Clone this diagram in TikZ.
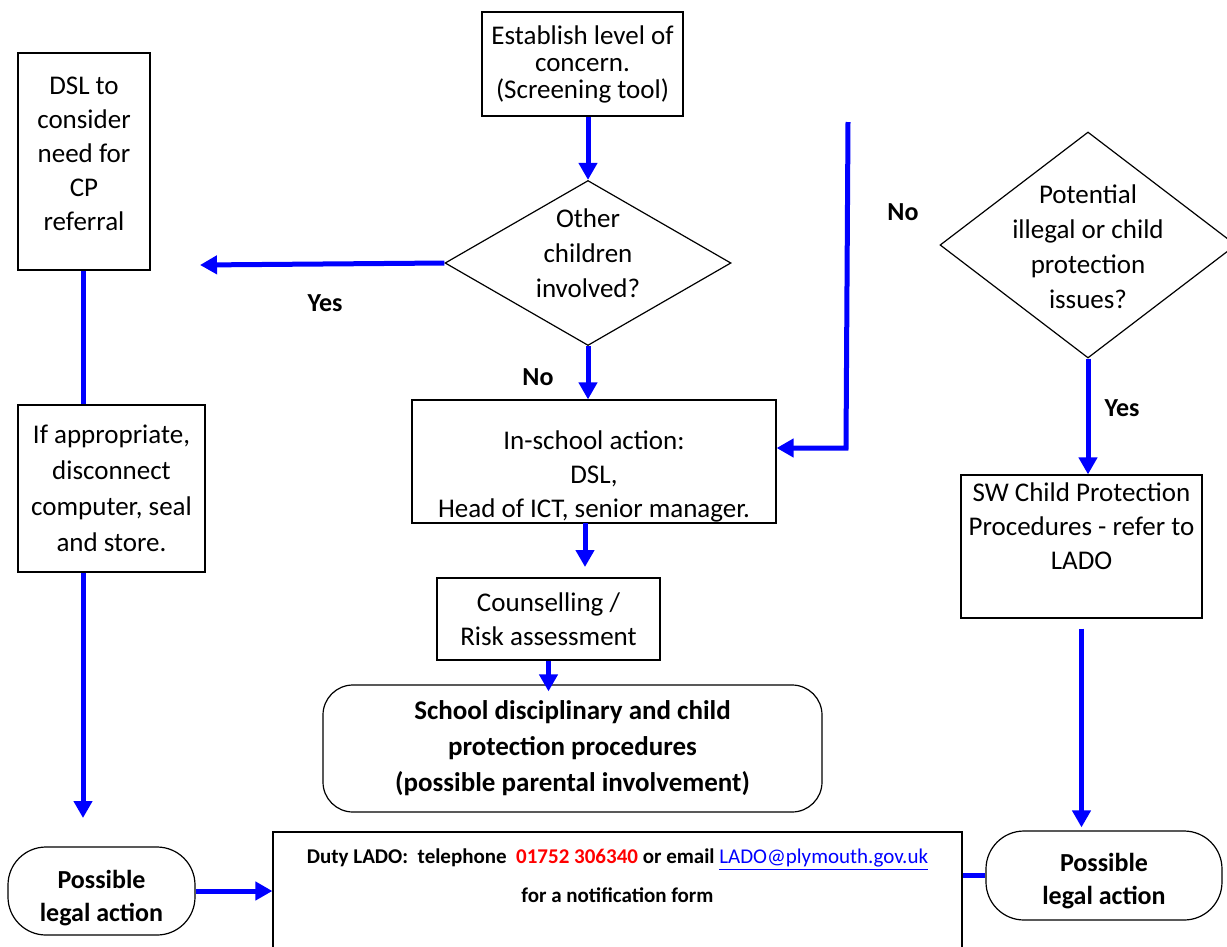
\documentclass[tikz,border=0pt]{standalone}
\usepackage{fontspec}
\setmainfont{Carlito}
\usepackage{tikz}
\usetikzlibrary{shapes.geometric,arrows.meta}

\begin{document}
\begin{tikzpicture}[x=1pt, y=-1pt, line width=1.2pt, % pixel grid, origin top left
  box/.style={draw, rectangle, align=center, inner sep=0pt, font=\fontsize{27}{34}\selectfont},
  decision/.style={draw, diamond, inner sep=0pt},
  terminal/.style={draw, rectangle, rounded corners=38pt, align=center, inner sep=0pt, font=\bfseries\fontsize{26}{33}\selectfont},
  flow/.style={draw=blue, line width=5pt, -{Triangle[length=17pt,width=18pt]}}, % blue arrow
  link/.style={draw=blue, line width=5pt}, % blue line, no tip
  answer/.style={font=\bfseries\fontsize{26}{30}\selectfont}]
  \useasboundingbox (0,0) rectangle (1227,946); % page size

  % boxes
  \node[box, minimum width=201pt, minimum height=104pt, font=\fontsize{27}{27}\selectfont] (concern) at (582.5,64) {Establish level of\\concern.\\(Screening tool)};
  \node[box, minimum width=132pt, minimum height=217pt, text depth=16pt] (dslcp) at (84,161.5) {DSL to\\consider\\need for\\CP\\referral};
  \node[decision, minimum width=286pt, minimum height=165pt,
    label={[align=center, yshift=10pt, font=\fontsize{27}{35}\selectfont]center:Other\\children\\involved?}] (children) at (588,263) {};
  \node[box, minimum width=187pt, minimum height=167pt, font=\fontsize{27}{36}\selectfont] (appropriate) at (111.5,488.5) {If appropriate,\\disconnect\\computer, seal\\and store.};
  \node[box, minimum width=364pt, minimum height=123pt, text height=117pt] (inschool) at (594,461.5) {In-school action:\\DSL,\\Head of ICT, senior manager.};
  \node[decision, minimum width=296pt, minimum height=226pt,
    label={[align=center, yshift=-2pt, font=\fontsize{27}{35}\selectfont]center:Potential\\illegal or child\\protection\\issues?}] (illegal) at (1088,245) {};
  \node[box, minimum width=241pt, minimum height=143pt, text depth=40pt] (sw) at (1081.5,546.5) {SW Child Protection\\Procedures - refer to\\LADO};
  \node[box, minimum width=223pt, minimum height=82pt, text depth=0pt] (counsel) at (548.5,619) {Counselling /\\Risk assessment};
  \node[terminal, rounded corners=30pt, minimum width=499pt, minimum height=127pt, font=\bfseries\fontsize{27}{36}\selectfont] (school) at (572.5,748.5) {School disciplinary and child\\protection procedures\\(possible parental involvement)};
  \node[terminal, minimum width=187pt, minimum height=88pt, text height=66pt] (legala) at (101.5,891) {Possible\\legal action};
  \node[box, minimum width=689pt, minimum height=128pt] (lado) at (617.5,896) {}; % runs off the page
  \node[align=center, font=\bfseries\fontsize{21}{39}\selectfont] (ladotext) at (617.5,876) {Duty LADO:\ \ telephone\ \ \textcolor{red}{01752 306340} or email \textcolor{blue}{\mdseries\underline{LADO@plymouth.gov.uk}}\\for a notification form};
  \node[terminal, minimum width=236pt, minimum height=89pt, text height=63pt] (legalb) at (1104,875.5) {Possible\\legal action};

  % answers
  \node[answer] (yes1) at (325,303) {Yes};
  \node[answer] (no1) at (538,377) {No};
  \node[answer] (no2) at (903,212) {No};
  \node[answer] (yes2) at (1122,408) {Yes};

  % free ends
  \coordinate (yesend) at (200,265);
  \coordinate (leftend) at (83,818);
  \coordinate (nostart) at (848,122);
  \coordinate (nocorner) at (846,448);

  % connectors
  \draw[flow] (children.north |- concern.south) -- (children.north);
  \draw[flow] (children.west) -- (yesend);
  \draw[link] (dslcp.south -| leftend) -- (leftend |- appropriate.north);
  \draw[flow] (appropriate.south -| leftend) -- (leftend);
  \draw[flow] (children.south) -- (children.south |- inschool.north);
  \draw[flow] (nostart) -- (nocorner) -- (nocorner -| inschool.east);
  \draw[flow] (illegal.south) -- (illegal.south |- sw.north);
  \draw[flow, shorten <=10pt, shorten >=3pt] (sw.south) -- (sw.south |- legalb.north);
  \draw[flow, shorten >=11pt] (585,523) -- (585,578); % to counselling
  \draw[flow, shorten >=-7pt] (counsel.south) -- (counsel.south |- school.north);
  \draw[flow] (legala.east) -- (legala.east -| lado.west);
  \draw[link] (lado.east |- legalb.west) -- (legalb.west);
\end{tikzpicture}
\end{document}
